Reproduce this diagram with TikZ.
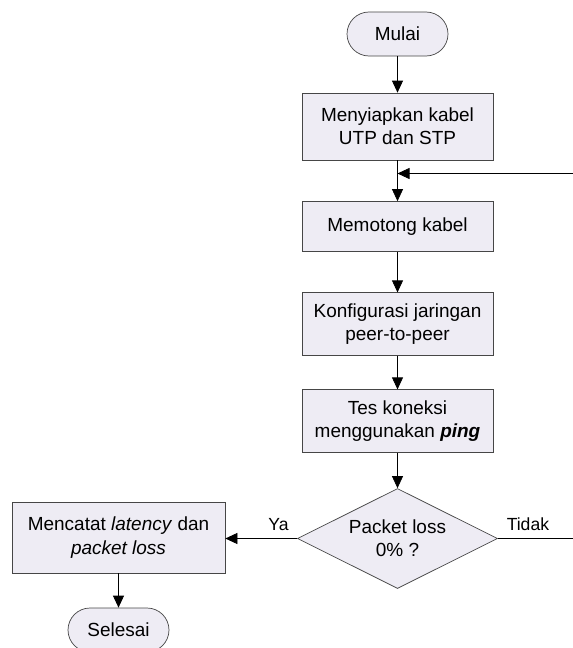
\documentclass[tikz,border=0pt]{standalone}
\usepackage{fontspec}
\setmainfont{Liberation Sans}
\usepackage{xcolor}
\usepackage{tikz}
\usetikzlibrary{shapes.geometric, arrows.meta, positioning, calc}

\definecolor{boxfill}{RGB}{238,236,244}
\definecolor{boxline}{RGB}{70,70,70}

\begin{document}
\begin{tikzpicture}[
    terminal_node/.style={
        rectangle,
        draw=boxline,
        fill=boxfill,
        rounded corners=0.44cm,
        minimum width=2.02cm,
        minimum height=0.88cm,
        align=center,
        font=\fontsize{10.8}{13.2}\selectfont
    },
    proc_node/.style={
        rectangle,
        draw=boxline,
        fill=boxfill,
        minimum width=3.82cm,
        minimum height=1.25cm,
        align=center,
        font=\fontsize{10.8}{13.2}\selectfont
    },
    decision_node/.style={
        diamond,
        draw=boxline,
        fill=boxfill,
        aspect=2,
        inner sep=0pt,
        minimum width=4cm,
        minimum height=2cm,
        align=center,
        font=\fontsize{10.8}{13.2}\selectfont
    },
    arrow/.style={-{Triangle[length=0.24cm,width=0.22cm]}, black},
    label_text/.style={font=\fontsize{10}{12}\selectfont, inner sep=1pt}
]

    % Frame of the picture
    \useasboundingbox (0,0) rectangle (11.46,-12.96);

    % Nodes with manual positioning for stability
    \node[terminal_node] (mulai) at (7.95, -0.68) {Mulai};

    \node[proc_node, minimum height=1.34cm] (siap) at (7.95, -2.53) {Menyiapkan kabel\\UTP dan STP};

    \node[proc_node, minimum height=1.0cm] (potong) at (7.95, -4.53) {Memotong kabel};

    \node[proc_node] (konfig) at (7.95, -6.48) {Konfigurasi jaringan\\peer-to-peer};

    \node[proc_node] (tes) at (7.95, -8.42) {Tes koneksi\\menggunakan \textbf{\textit{ping}}};

    \node[decision_node] (cek) at (7.95, -10.77) {Packet loss\\0\% ?};

    \node[proc_node, minimum width=4.26cm, minimum height=1.42cm] (catat) at (2.37, -10.75) {Mencatat \textit{latency} dan\\\textit{packet loss}};

    \node[terminal_node] (selesai) at (2.37, -12.6) {Selesai};

    % Loose ends at the right border
    \coordinate (balik) at (11.46, -3.47);
    \coordinate (tidak) at (11.46, -10.77);

    % Arrows
    \draw[arrow] (mulai) -- (siap);
    \draw[arrow] (siap) -- (potong);
    \draw[arrow] (balik) -- (balik -| siap.south);
    \draw[arrow] (potong) -- (konfig);
    \draw[arrow] (konfig) -- (tes);
    \draw[arrow] (tes) -- (cek);
    \draw[arrow] (cek.west) -- node[label_text, above=0.12cm, pos=0.26] {Ya} (cek.west -| catat.east);
    \draw (cek.east) -- node[label_text, above=0.12cm, pos=0.4] {Tidak} (tidak);
    \draw[arrow] (catat) -- (selesai);

\end{tikzpicture}
\end{document}
